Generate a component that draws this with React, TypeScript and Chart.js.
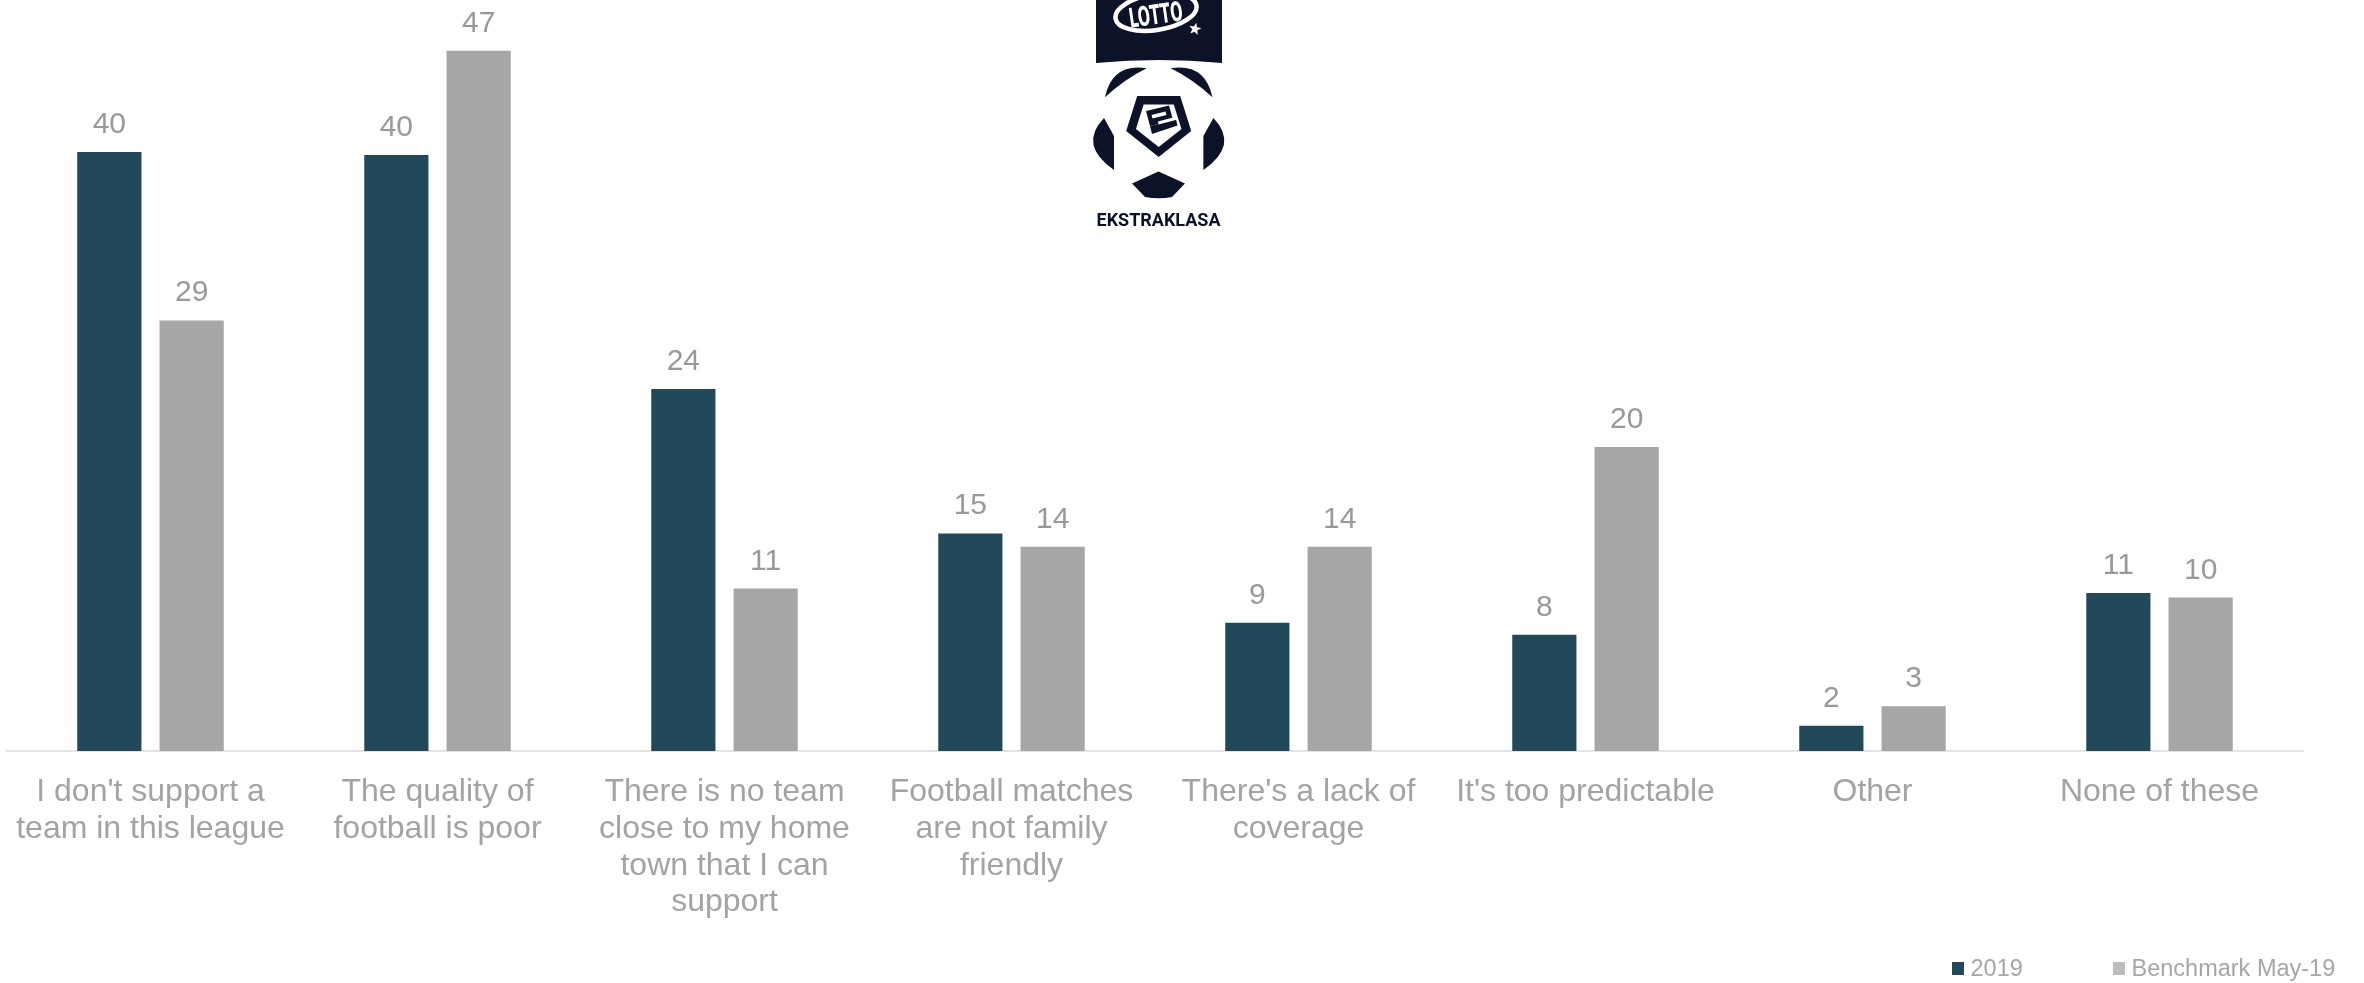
import React, { useEffect, useRef } from 'react';
import { Chart, registerables } from 'chart.js';

Chart.register(...registerables);

const categories: string[][] = [
  ["I don't support a", 'team in this league'],
  ['The quality of', 'football is poor'],
  ['There is no team', 'close to my home', 'town that I can', 'support'],
  ['Football matches', 'are not family', 'friendly'],
  ["There's a lack of", 'coverage'],
  ["It's too predictable"],
  ['Other'],
  ['None of these'],
];
const series2019 = [40.2, 40.0, 24.3, 14.6, 8.6, 7.8, 1.7, 10.6];
const seriesBenchmark = [28.9, 47.0, 10.9, 13.7, 13.7, 20.4, 3.0, 10.3];
const seriesNames = ['2019', 'Benchmark May-19'];
const seriesColors = ['#22495a', '#a6a6a6'];
const legendColors = ['#22495a', '#bdbdbd'];
const yMin = 0;
const yMax = 50;
const logoText = 'EKSTRAKLASA';
const logoBrand = 'LOTTO';

const FONT = '"Liberation Sans", Arial, sans-serif';
const NAVY = '#0c1329';

const valueLabelPlugin = {
  id: 'valueLabels',
  afterDatasetsDraw(chart: any) {
    const ctx = chart.ctx;
    ctx.save();
    ctx.font = `30px ${FONT}`;
    ctx.fillStyle = '#999999';
    ctx.textAlign = 'center';
    ctx.textBaseline = 'alphabetic';
    chart.data.datasets.forEach((ds: any, i: number) => {
      const meta = chart.getDatasetMeta(i);
      meta.data.forEach((bar: any, j: number) => {
        const v = ds.data[j] as number;
        ctx.fillText(String(Math.round(v)), bar.x, bar.y - 19);
      });
    });
    ctx.restore();
  },
};

const legendPlugin = {
  id: 'customLegend',
  afterDraw(chart: any) {
    const ctx = chart.ctx;
    ctx.save();
    ctx.font = `23.5px ${FONT}`;
    ctx.textBaseline = 'alphabetic';
    ctx.textAlign = 'left';
    const items = [
      { x: 1952, name: seriesNames[0], color: legendColors[0] },
      { x: 2113, name: seriesNames[1], color: legendColors[1] },
    ];
    items.forEach((it) => {
      ctx.fillStyle = it.color;
      ctx.fillRect(it.x, 962, 12, 13);
      ctx.fillStyle = '#a6a6a6';
      ctx.fillText(it.name, it.x + 18.5, 975.5);
    });
    ctx.restore();
  },
};

function star(ctx: CanvasRenderingContext2D, cx: number, cy: number, ro: number, ri: number, rot: number) {
  ctx.beginPath();
  for (let i = 0; i < 10; i++) {
    const r = i % 2 === 0 ? ro : ri;
    const a = -Math.PI / 2 + rot + (i * Math.PI) / 5;
    const px = cx + r * Math.cos(a);
    const py = cy + r * Math.sin(a);
    if (i === 0) ctx.moveTo(px, py);
    else ctx.lineTo(px, py);
  }
  ctx.closePath();
  ctx.fill();
}

function poly(ctx: CanvasRenderingContext2D, pts: number[][]) {
  ctx.beginPath();
  pts.forEach((p, i) => (i === 0 ? ctx.moveTo(p[0], p[1]) : ctx.lineTo(p[0], p[1])));
  ctx.closePath();
  ctx.fill();
}

const logoPlugin = {
  id: 'logo',
  afterDraw(chart: any) {
    const ctx: CanvasRenderingContext2D = chart.ctx;
    ctx.save();
    const MX = 2317.4;
    // banner
    ctx.fillStyle = NAVY;
    ctx.beginPath();
    ctx.moveTo(1096, 0);
    ctx.lineTo(1222, 0);
    ctx.lineTo(1222, 63);
    ctx.quadraticCurveTo(1159, 57, 1096, 63);
    ctx.closePath();
    ctx.fill();
    // swoosh
    ctx.strokeStyle = '#ffffff';
    ctx.lineWidth = 4.5;
    ctx.beginPath();
    ctx.ellipse(1156, 12, 41, 18, -0.16, 0.0, Math.PI * 2);
    ctx.stroke();
    // LOTTO text
    ctx.save();
    ctx.translate(1157, 24);
    ctx.rotate(-0.14);
    ctx.fillStyle = '#ffffff';
    ctx.font = 'bold 27px "Liberation Sans Narrow", "DejaVu Sans Condensed", "Liberation Sans", sans-serif';
    ctx.textAlign = 'center';
    ctx.textBaseline = 'alphabetic';
    ctx.fillText(logoBrand, 0, 0, 54);
    ctx.restore();
    ctx.fillStyle = '#ffffff';
    star(ctx, 1195, 29, 6.5, 2.7, 0.2);

    // ball patches
    ctx.fillStyle = NAVY;
    ctx.beginPath();
    ctx.moveTo(1105, 97.3);
    ctx.quadraticCurveTo(1112.2, 63.1, 1146.7, 68.3);
    ctx.quadraticCurveTo(1124.8, 79, 1105, 97.3);
    ctx.closePath();
    ctx.fill();
    ctx.beginPath();
    ctx.moveTo(MX - 1105, 97.3);
    ctx.quadraticCurveTo(MX - 1112.2, 63.1, MX - 1146.7, 68.3);
    ctx.quadraticCurveTo(MX - 1124.8, 79, MX - 1105, 97.3);
    ctx.closePath();
    ctx.fill();
    ctx.beginPath();
    ctx.moveTo(1104, 118);
    ctx.lineTo(1114, 136);
    ctx.lineTo(1114, 170);
    ctx.quadraticCurveTo(1078, 145, 1104, 118);
    ctx.closePath();
    ctx.fill();
    ctx.beginPath();
    ctx.moveTo(MX - 1104, 118);
    ctx.lineTo(MX - 1114, 136);
    ctx.lineTo(MX - 1114, 170);
    ctx.quadraticCurveTo(MX - 1078, 145, MX - 1104, 118);
    ctx.closePath();
    ctx.fill();
    ctx.beginPath();
    ctx.moveTo(1158.5, 171.5);
    ctx.lineTo(1185, 183.5);
    ctx.lineTo(1172, 197);
    ctx.quadraticCurveTo(1158.5, 199.5, 1145, 197);
    ctx.lineTo(1132, 183.5);
    ctx.closePath();
    ctx.fill();
    // center pentagon
    const cx = 1158.7, cy = 124;
    const outer = [
      [1137.2, 96],
      [1180.2, 96],
      [1191.2, 131],
      [1158.7, 157],
      [1126.2, 131],
    ];
    poly(ctx, outer);
    ctx.fillStyle = '#ffffff';
    poly(ctx, outer.map((p) => [cx + (p[0] - cx) * 0.7, cy + (p[1] - cy) * 0.7]));
    // stylised "e"
    ctx.fillStyle = NAVY;
    poly(ctx, [
      [1146, 111],
      [1169, 105.5],
      [1173, 120],
      [1150, 126],
    ]);
    poly(ctx, [
      [1150, 126],
      [1176, 119.5],
      [1177.5, 125.5],
      [1152, 134],
    ]);
    ctx.fillStyle = '#ffffff';
    poly(ctx, [
      [1151.5, 115],
      [1165.5, 111.5],
      [1166.5, 115],
      [1152.5, 118.5],
    ]);
    poly(ctx, [
      [1158, 121.5],
      [1177, 116.5],
      [1177.5, 119.5],
      [1158.5, 124.5],
    ]);
    // wordmark
    ctx.fillStyle = NAVY;
    ctx.font = 'bold 18px Roboto, "DejaVu Sans", sans-serif';
    ctx.textAlign = 'left';
    ctx.textBaseline = 'alphabetic';
    ctx.fillText(logoText, 1096.5, 226, 128);
    ctx.restore();
  },
};

export default function App() {
  const canvasRef = useRef<HTMLCanvasElement | null>(null);

  useEffect(() => {
    const canvas = canvasRef.current;
    if (!canvas) return;
    const chart = new Chart(canvas, {
      type: 'bar',
      data: {
        labels: categories as any,
        datasets: [
          {
            label: seriesNames[0],
            data: series2019,
            backgroundColor: seriesColors[0],
            borderWidth: 0,
            categoryPercentage: 0.5735,
            barPercentage: 0.78,
          },
          {
            label: seriesNames[1],
            data: seriesBenchmark,
            backgroundColor: seriesColors[1],
            borderWidth: 0,
            categoryPercentage: 0.5735,
            barPercentage: 0.78,
          },
        ],
      },
      options: {
        responsive: false,
        animation: false,
        events: [],
        layout: { padding: { left: 7, right: 61, top: 6, bottom: 0 } },
        plugins: {
          legend: { display: false },
          tooltip: { enabled: false },
          title: { display: false },
        },
        scales: {
          x: {
            grid: { display: false },
            border: { display: true, color: '#e4e4e4', width: 2 },
            ticks: {
              color: '#a3a3a3',
              font: { family: FONT, size: 32, lineHeight: 1.147 },
              padding: 15,
              maxRotation: 0,
              minRotation: 0,
              autoSkip: false,
            },
            afterFit: (scale: any) => {
              scale.height = 232;
            },
          },
          y: {
            display: false,
            min: yMin,
            max: yMax,
          },
        },
      },
      plugins: [valueLabelPlugin, legendPlugin, logoPlugin],
    });
    return () => chart.destroy();
  }, []);

  return (
    <div style={{ position: 'absolute', left: 0, top: 0, width: 2364, height: 983, background: '#ffffff' }}>
      <canvas ref={canvasRef} width={2364} height={983} style={{ display: 'block', width: 2364, height: 983 }} />
    </div>
  );
}
